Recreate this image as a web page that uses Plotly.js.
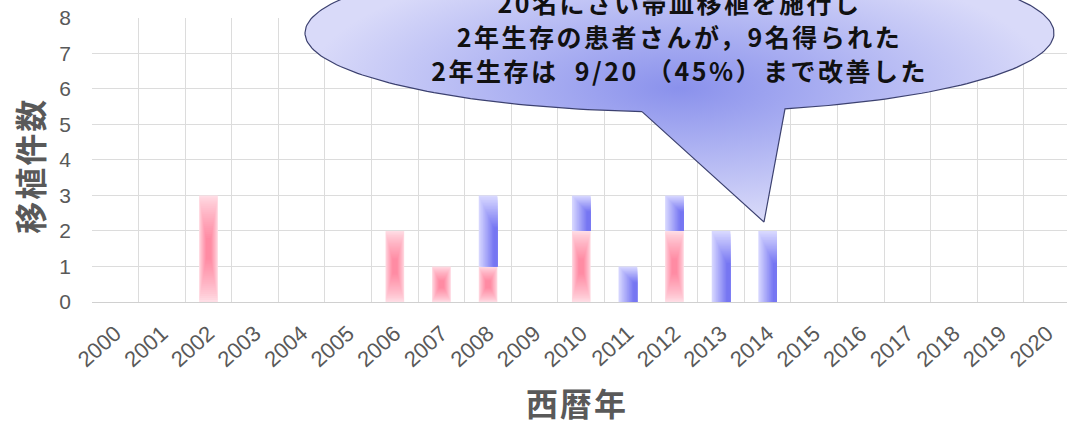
<!DOCTYPE html>
<html>
<head>
<meta charset="utf-8">
<script src="https://cdn.plot.ly/plotly-3.0.1.min.js"></script>
<style>
html,body{margin:0;padding:0;background:#fff;}
#chart{width:1067px;height:423px;}
.callout-text text{letter-spacing:2.5px;}
.title-text text{letter-spacing:2px;}
</style>
</head>
<body>
<div id="chart"></div>
<script>
// ---- data ----
const years = ['2000','2001','2002','2003','2004','2005','2006','2007','2008','2009','2010',
               '2011','2012','2013','2014','2015','2016','2017','2018','2019','2020'];
// transplants without 2-year survival (pink)
const notSurvived = [0,0,3,0,0,0,2,1,1,0,2,0,2,0,0,0,0,0,0,0,0];
// transplants with 2-year survival (blue)
const survived2y  = [0,0,0,0,0,0,0,0,2,0,1,1,1,2,2,0,0,0,0,0,0];
const yTicks = [0,1,2,3,4,5,6,7,8];
const calloutLines = [
  '20名にさい帯血移植を施行し',
  '2年生存の患者さんが，9名得られた',
  '2年生存は\u00a0\u00a09/20\u00a0（45%）まで改善した'
];
const xTitle = '西暦年';
const yTitle = '移植件数';

// ---- helpers ----
function hex(c){return [parseInt(c.slice(1,3),16),parseInt(c.slice(3,5),16),parseInt(c.slice(5,7),16)];}
function mix(a,b,t){const A=hex(a),B=hex(b);return 'rgb('+A.map((v,i)=>Math.round(v+(B[i]-v)*t)).join(',')+')';}

const traces = [];
const N = 22;
const BW = 0.4;
// pink bars: radial-like gradient, lighter at the edges
for(let k=0;k<N;k++){
  const t = k/(N-1);
  traces.push({
    type:'bar', x:years, xaxis:'x', yaxis:'y',
    y: notSurvived.map(v=>v*(1-0.8*t)),
    base: notSurvived.map(v=>v*0.4*t),
    width: BW*(1-0.75*t),
    marker:{color: mix('#ffdde5','#ff8ba3',Math.pow(t,0.8)), line:{width:0}},
    hoverinfo:'skip', showlegend:false
  });
}
// blue bars stacked on pink: light top-left to dark bottom-right
for(let k=0;k<N;k++){
  const t = k/(N-1);
  traces.push({
    type:'bar', x:years, xaxis:'x', yaxis:'y',
    y: survived2y.map(v=>v*(1-0.45*t)),
    base: notSurvived,
    width: BW-0.32*t,
    offset: -BW/2+0.32*t,
    marker:{color: mix('#d8d8ff','#7676f2',t), line:{width:0}},
    hoverinfo:'skip', showlegend:false
  });
}

// ---- callout bubble (annotation shape, pixel-like overlay axes) ----
const cx=679.5, cy=33, ra=374.5, rb=79;
const baseR=785, baseL=642, tip=[764,222];
const th1=Math.acos((baseR-cx)/ra), th2=Math.acos((baseL-cx)/ra);
const bx=[], by=[];
for(let i=0;i<=240;i++){
  const th = th2 + (th1+2*Math.PI-th2)*i/240;
  bx.push(cx+ra*Math.cos(th)); by.push(cy+rb*Math.sin(th));
}
bx.push(tip[0]); by.push(tip[1]); bx.push(bx[0]); by.push(by[0]);
traces.push({
  type:'scatter', mode:'lines', x:bx, y:by, xaxis:'x2', yaxis:'y2',
  fill:'toself',
  fillgradient:{type:'radial', colorscale:[[0,'#8a91ec'],[0.45,'#adb2f2'],[1,'#d9daf9']]},
  line:{color:'#3c4170', width:1.2},
  hoverinfo:'skip', showlegend:false
});

const lineY=[2,36,70];
const annotations = calloutLines.map((s,i)=>({
  xref:'x2', yref:'y2', x:679, y:lineY[i], text:s, showarrow:false,
  xanchor:'center', yanchor:'middle',
  font:{family:'"Noto Sans CJK JP", sans-serif', size:25, color:'#111111', weight:'bold'}
}));
annotations.push({xref:'paper', yref:'paper', x:0.4974, y:-0.33, text:xTitle, showarrow:false,
  xanchor:'center', yanchor:'middle', borderpad:0,
  font:{family:'"Noto Sans CJK JP", sans-serif', size:32, color:'#595959', weight:'bold'}});
annotations.push({xref:'paper', yref:'paper', x:-0.064, y:0.45, text:yTitle, showarrow:false, textangle:-90,
  xanchor:'center', yanchor:'middle',
  font:{family:'"Noto Sans CJK JP", sans-serif', size:32, color:'#595959', weight:'bold'}});

const layout = {
  width:1067, height:423,
  margin:{l:92, r:0, t:0, b:121},
  paper_bgcolor:'#ffffff', plot_bgcolor:'rgba(0,0,0,0)',
  barmode:'overlay', showlegend:false,
  xaxis:{type:'category', domain:[0,1], anchor:'y', range:[-0.5,20.425],
    tickson:'boundaries', showgrid:true, gridcolor:'#dcdcdc', gridwidth:1,
    ticks:'', tickangle:-42, ticklabelstandoff:9,
    tickfont:{family:'"Liberation Sans", Arial, sans-serif', size:22, color:'#595959'},
    showline:true, linecolor:'#d0d0d0', linewidth:1, fixedrange:true},
  yaxis:{domain:[0,0.9404], anchor:'x', range:[0,8], tickvals:yTicks,
    showgrid:true, gridcolor:'#dcdcdc', gridwidth:1, zeroline:false,
    ticks:'', ticklabelstandoff:20,
    tickfont:{family:'"Liberation Sans", Arial, sans-serif', size:21, color:'#595959'},
    fixedrange:true},
  xaxis2:{domain:[0,1], anchor:'y2', range:[92,1067], visible:false, fixedrange:true},
  yaxis2:{domain:[0,1], anchor:'x2', range:[302,0], visible:false, fixedrange:true},
  annotations: annotations
};

Plotly.newPlot('chart', traces, layout, {displayModeBar:false, staticPlot:true}).then(gd=>{
  const anns = gd.querySelectorAll('.annotation');
  anns.forEach(a=>{
    const idx = +a.getAttribute('data-index');
    if(idx<calloutLines.length) a.classList.add('callout-text');
    else a.classList.add('title-text');
  });
});
</script>
</body>
</html>
